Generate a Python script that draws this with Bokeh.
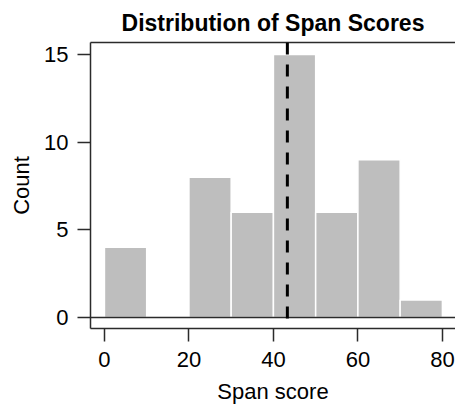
from bokeh.plotting import figure
from bokeh.models import FixedTicker, LinearAxis, Span, Range1d
from bokeh.embed import file_html
from bokeh.resources import INLINE

# Histogram data (bin edges and counts)
bin_left = [0, 10, 20, 30, 40, 50, 60, 70]
bin_right = [10, 20, 30, 40, 50, 60, 70, 80]
counts = [4, 0, 8, 6, 15, 6, 9, 1]
mean_score = 43.3
x_ticks = [0, 20, 40, 60, 80]
y_ticks = [0, 5, 10, 15]
title_text = "Distribution of Span Scores"

FONT = "Liberation Sans"
DARK = "#2b2b2b"

p = figure(width=455, height=406, output_backend="svg", toolbar_location=None,
           x_range=Range1d(-3.3, 83.1), y_range=Range1d(-0.63, 15.68),
           min_border_left=90, min_border_right=0, min_border_top=42,
           min_border_bottom=78, x_axis_location=None, y_axis_location=None)
p.outline_line_color = None
p.grid.visible = False
p.background_fill_color = "white"
p.border_fill_color = "white"

p.title.text = title_text
p.title.text_font = FONT
p.title.text_font_size = "23px"
p.title.text_font_style = "bold"
p.title.align = "center"
p.title.text_color = "black"
p.title.standoff = 14

p.quad(left=bin_left, right=bin_right, top=counts, bottom=0,
       fill_color="#bebebe", line_color="white", line_width=1.5)

p.add_layout(Span(location=0, dimension="width", line_color=DARK, line_width=1.5))
p.add_layout(Span(location=mean_score, dimension="height", line_color="black",
                  line_width=3, line_dash="12 10"))

def style(ax):
    ax.axis_line_color = DARK
    ax.axis_line_width = 1.5
    ax.major_tick_line_color = DARK
    ax.major_tick_line_width = 1.5
    ax.major_tick_in = 0
    ax.major_tick_out = 13
    ax.minor_tick_line_color = None
    ax.major_label_text_font = FONT
    ax.major_label_text_font_size = "22px"
    ax.major_label_text_color = "black"
    ax.axis_label_text_font = FONT
    ax.axis_label_text_font_size = "22px"
    ax.axis_label_text_font_style = "normal"
    ax.axis_label_text_color = "black"

xa = LinearAxis(ticker=FixedTicker(ticks=x_ticks), axis_label="Span score")
style(xa)
xa.major_label_standoff = 10
xa.axis_label_standoff = 9
p.add_layout(xa, "below")

ya = LinearAxis(ticker=FixedTicker(ticks=y_ticks), axis_label="Count")
style(ya)
ya.major_label_standoff = 9
ya.axis_label_standoff = 7
ya.major_label_orientation = "horizontal"
p.add_layout(ya, "left")

top = LinearAxis(ticker=FixedTicker(ticks=[]))
top.axis_line_color = DARK
top.axis_line_width = 1.5
top.major_tick_line_color = None
top.minor_tick_line_color = None
top.major_tick_out = 0
top.major_tick_in = 0
top.major_label_standoff = 0
top.axis_label_standoff = 0
top.major_label_text_font_size = "0px"
p.add_layout(top, "above")

open("out.html", "w").write(file_html(p, INLINE))
